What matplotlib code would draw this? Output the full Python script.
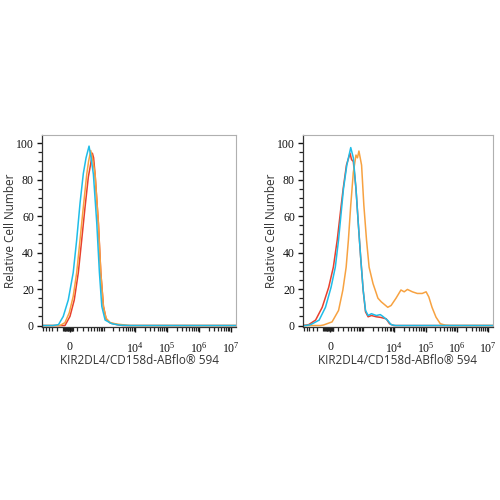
import numpy as np
import matplotlib
matplotlib.use("Agg")
import matplotlib.pyplot as plt
from matplotlib.ticker import FixedLocator, NullFormatter

plt.rcParams['mathtext.fontset'] = 'custom'
plt.rcParams['mathtext.rm'] = 'Liberation Serif'

# fluorescence intensity (x) and relative cell number (y)
# left panel
left_cyan_x = [-660, -280, -165, -90, -22, 42, 90, 141, 200, 257, 331, 390, 467, 606, 737, 880, 1123, 1837, 3360, 7000, 1.5e7]
left_cyan_y = [0, 0, 0.5, 5, 14, 29, 47, 67, 83.4, 92, 98.4, 92, 83, 56, 29, 10.5, 3, 1, 0.2, 0, 0]

left_orange_x = [-660, -141, -66, -9, 42, 90, 141, 200, 273, 318, 380, 422, 532, 683, 817, 991, 1208, 1625, 2643, 4200, 6500, 1.5e7]
left_orange_y = [0, 0, 1.6, 7, 16, 29, 47, 65, 83, 90, 96, 93, 83, 56, 29, 10.5, 4, 1.6, 0.8, 0.4, 0, 0]

left_red_x = [-660, -66, 0, 56, 114, 170, 235, 313, 372, 432, 475, 532, 683, 817, 991, 1208, 1625, 2643, 4000, 1.5e7]
left_red_y = [0, 0, 5, 14, 29, 47, 65, 81.6, 88, 94.5, 92, 83, 56, 29, 10.5, 3.5, 1.4, 0.5, 0, 0]

# right panel
right_cyan_x = [-660, -532, -359, -165, -66, 9, 66, 114, 170, 200, 273, 380, 467, 575, 683, 817, 991, 1183,
                1436, 1837, 2643, 3535, 4270, 6140, 7860, 11000, 1.5e7]
right_cyan_y = [0, 0, 0.5, 3, 10, 21, 32, 47, 66, 75, 88, 97.6, 92, 75, 56.5, 38, 19.5, 8.3,
                5.5, 6.5, 5.5, 6, 5, 2.8, 0.5, 0, 0]

right_red_x = [-660, -422, -235, -114, -22, 39, 94, 158, 194, 264, 359, 405, 467, 575, 683, 817, 991, 1183,
               1436, 1837, 2643, 3535, 5470, 7000, 9500, 1.5e7]
right_red_y = [0, 0.5, 3, 10, 21, 32, 47, 66, 75, 88, 94.5, 91, 90, 75, 56.5, 38, 19.5, 7.5,
               4.8, 5.5, 4.8, 4.5, 3.7, 1, 0, 0]

right_orange_x = [-660, -141, -94, 22, 114, 188, 257, 313, 380, 467, 575, 645, 720, 880, 1044, 1273, 1545,
                  2065, 2643, 2970, 3800, 6140, 7860, 11300, 16250, 20650, 26240, 37760, 54300, 78000,
                  104000, 127000, 161000, 216000, 297000, 427000, 600000, 1.5e7]
right_orange_y = [0, 0, 0.3, 2, 8.3, 19.5, 32, 47, 66, 84, 93.5, 92, 95.7, 88, 66, 47, 32,
                  23, 17.6, 15, 13, 10, 11, 15, 19.5, 18.5, 19.8, 18.5, 17.6, 17.6,
                  18.5, 15.7, 10, 4.6, 1, 0.2, 0, 0]

x_label = "KIR2DL4/CD158d-ABflo\u00ae 594"
y_label = "Relative Cell Number"
x_major = [0, 1e4, 1e5, 1e6, 1e7]
x_major_labels = ["0", r"$\mathregular{10^4}$", r"$\mathregular{10^5}$", r"$\mathregular{10^6}$", r"$\mathregular{10^7}$"]
y_major = [0, 20, 40, 60, 80, 100]

CYAN = '#1fbde8'
ORANGE = '#f7a241'
RED = '#e8402d'
W = 178.0


def fwd(x):
    return np.arcsinh(np.asarray(x) / W)


def inv(y):
    return W * np.sinh(np.asarray(y))


def minor_ticks():
    t = [v for v in range(-600, -90, 100)] + [v for v in range(-80, 50, 10) if v != 0]
    t += list(range(100, 1000, 100))
    for p in [1e3, 1e4, 1e5, 1e6]:
        t += [k * p for k in range(1, 10)]
    return t


def style_axes(ax):
    ax.set_xscale('function', functions=(fwd, inv))
    ax.set_xlim(-660, 1.45e7)
    ax.set_ylim(-0.8, 104.5)
    ax.xaxis.set_major_locator(FixedLocator(x_major))
    ax.set_xticklabels(x_major_labels)
    ax.xaxis.set_minor_locator(FixedLocator(minor_ticks()))
    ax.xaxis.set_minor_formatter(NullFormatter())
    ax.set_yticks(y_major)
    ax.yaxis.set_minor_locator(FixedLocator(np.arange(0, 105, 5)))
    ax.tick_params(axis='both', which='major', direction='out', length=3.8, width=1.0,
                   labelsize=8.5, pad=2, color='#111111')
    ax.tick_params(axis='x', which='major', pad=6)
    ax.tick_params(axis='both', which='minor', direction='out', length=3, width=0.9,
                   color='#222222')
    for lab in ax.get_xticklabels() + ax.get_yticklabels():
        lab.set_fontfamily('Liberation Serif')
        lab.set_color('#111111')
    for s in ['top', 'right']:
        ax.spines[s].set_color('#b0b0b0')
        ax.spines[s].set_linewidth(0.8)
    for s in ['left', 'bottom']:
        ax.spines[s].set_color('#333333')
        ax.spines[s].set_linewidth(0.9)
    ax.set_xlabel(x_label, fontfamily='Open Sans', fontsize=8.5, color='#333333', labelpad=-1)
    ax.set_ylabel(y_label, fontfamily='Open Sans', fontsize=8.5, color='#333333', labelpad=-0.5)


fig = plt.figure(figsize=(5, 5), dpi=100)
ax1 = fig.add_axes([0.084, 0.346, 0.388, 0.384])
ax2 = fig.add_axes([0.606, 0.346, 0.38, 0.384])

ax1.plot(left_red_x, left_red_y, color=RED, lw=1.1)
ax1.plot(left_orange_x, left_orange_y, color=ORANGE, lw=1.1)
ax1.plot(left_cyan_x, left_cyan_y, color=CYAN, lw=1.1)

ax2.plot(right_red_x, right_red_y, color=RED, lw=1.1)
ax2.plot(right_orange_x, right_orange_y, color=ORANGE, lw=1.1)
ax2.plot(right_cyan_x, right_cyan_y, color=CYAN, lw=1.1)

for ax in (ax1, ax2):
    style_axes(ax)

fig.savefig("out.png", dpi=100)
